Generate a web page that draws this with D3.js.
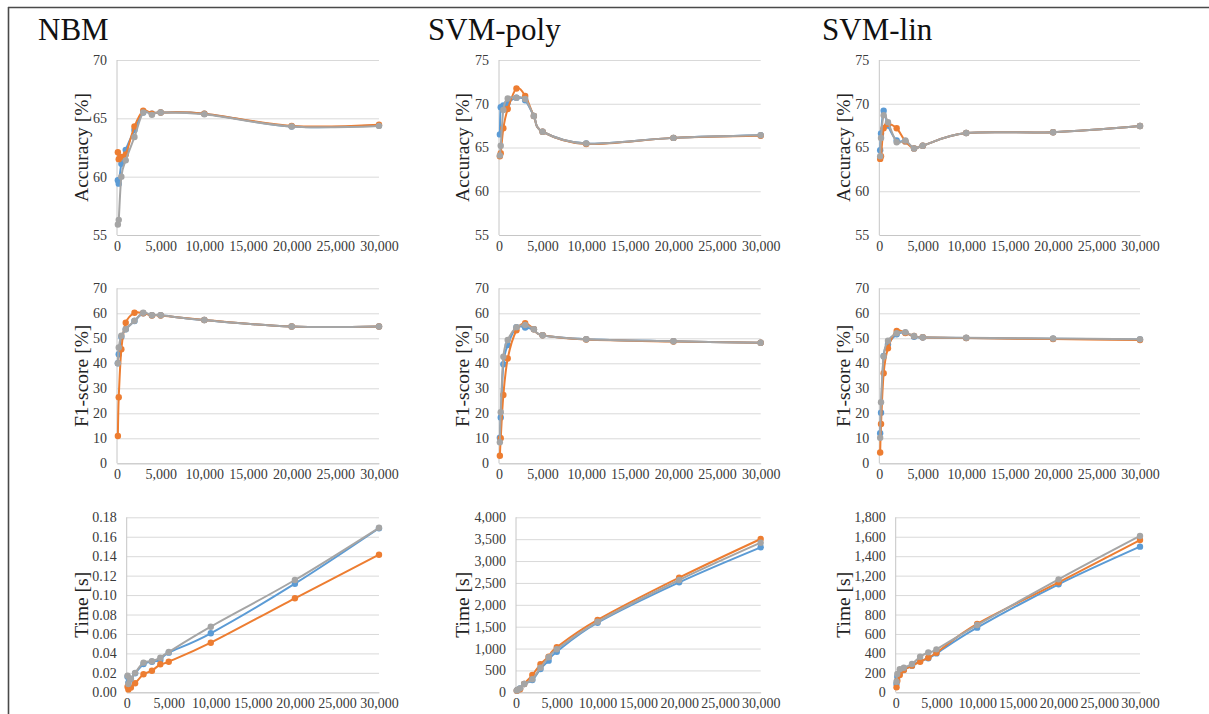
<!DOCTYPE html>
<html><head><meta charset="utf-8">
<script src="https://cdn.jsdelivr.net/npm/d3@7"></script>
<style>
body{margin:0;background:#fff;}
svg{display:block;}
text{font-family:"Liberation Serif","Times New Roman",serif;}
</style></head><body>
<svg id="chart" width="1209" height="714"></svg>
<script>
// ---------------- DATA ----------------
const xValues = [100, 200, 500, 1000, 2000, 3000, 4000, 5000, 10000, 20000, 30000];
const modelTitles = ["NBM", "SVM-poly", "SVM-lin"];
const metricLabels = ["Accuracy [%]", "F1-score [%]", "Time [s]"];
const xTicks = [0, 5000, 10000, 15000, 20000, 25000, 30000];

const nbmAccTicks = [55, 60, 65, 70];
const svmAccTicks = [55, 60, 65, 70, 75];
const f1Ticks = [0, 10, 20, 30, 40, 50, 60, 70];
const nbmTimeTicks = [0, 0.02, 0.04, 0.06, 0.08, 0.10, 0.12, 0.14, 0.16, 0.18];
const polyTimeTicks = [0, 500, 1000, 1500, 2000, 2500, 3000, 3500, 4000];
const linTimeTicks = [0, 200, 400, 600, 800, 1000, 1200, 1400, 1600, 1800];

// NBM accuracy
const nbmAccBlue   = [59.7, 59.4, 61.1, 62.3, 64.0, 65.5, 65.4, 65.5, 65.4, 64.3, 64.4];
const nbmAccOrange = [62.1, 61.5, 61.7, 61.9, 64.3, 65.65, 65.4, 65.5, 65.4, 64.35, 64.45];
const nbmAccGray   = [55.9, 56.3, 60.0, 61.4, 63.4, 65.5, 65.3, 65.5, 65.35, 64.3, 64.35];
// SVM-poly accuracy
const polyAccBlue   = [66.5, 69.6, 69.8, 70.1, 70.7, 70.4, 68.6, 66.8, 65.45, 66.1, 66.4];
const polyAccOrange = [64.0, 64.35, 67.2, 69.4, 71.75, 70.9, 68.6, 66.8, 65.4, 66.1, 66.35];
const polyAccGray   = [64.1, 65.2, 69.3, 70.6, 70.7, 70.55, 68.6, 66.8, 65.45, 66.1, 66.4];
// SVM-lin accuracy
const linAccBlue   = [64.7, 66.6, 69.2, 67.5, 65.8, 65.7, 64.9, 65.2, 66.65, 66.75, 67.45];
const linAccOrange = [63.7, 64.0, 67.2, 67.7, 67.2, 65.7, 64.9, 65.2, 66.65, 66.75, 67.45];
const linAccGray   = [64.0, 66.1, 68.7, 67.9, 65.6, 65.8, 64.9, 65.2, 66.65, 66.75, 67.45];
// NBM F1
const nbmF1Blue   = [40.0, 43.6, 50.6, 53.6, 56.9, 60.0, 59.2, 59.2, 57.3, 54.7, 54.7];
const nbmF1Orange = [10.9, 26.4, 45.6, 56.2, 60.2, 60.0, 59.1, 59.1, 57.3, 54.7, 54.7];
const nbmF1Gray   = [40.0, 46.3, 51.0, 53.6, 57.0, 60.2, 59.2, 59.2, 57.3, 54.7, 54.7];
// SVM-poly F1
const polyF1Blue   = [10.2, 18.3, 39.6, 47.3, 54.4, 54.3, 53.6, 51.2, 49.6, 48.8, 48.2];
const polyF1Orange = [3.0, 10.0, 27.3, 41.9, 53.2, 56.0, 53.6, 51.2, 49.5, 48.7, 48.2];
const polyF1Gray   = [8.4, 20.4, 42.6, 49.3, 54.4, 55.3, 53.6, 51.2, 49.6, 48.8, 48.2];
// SVM-lin F1
const linF1Blue   = [12.0, 20.2, 42.9, 47.6, 51.6, 52.2, 50.6, 50.3, 50.1, 49.8, 49.5];
const linF1Orange = [4.3, 15.7, 36.0, 46.0, 52.9, 52.1, 50.9, 50.4, 50.1, 49.7, 49.3];
const linF1Gray   = [10.2, 24.4, 42.7, 49.0, 52.0, 52.4, 50.9, 50.4, 50.2, 49.9, 49.6];
// NBM time
const nbmTimeBlue   = [0.016, 0.010, 0.0137, 0.0195, 0.029, 0.0315, 0.0332, 0.0408, 0.0607, 0.1117, 0.1687];
const nbmTimeOrange = [0.0058, 0.003, 0.005, 0.0093, 0.0185, 0.0222, 0.0288, 0.0315, 0.051, 0.0967, 0.1415];
const nbmTimeGray   = [0.017, 0.0085, 0.014, 0.020, 0.0305, 0.032, 0.0356, 0.0415, 0.0675, 0.1155, 0.1692];
// SVM-poly time
const polyTimeBlue   = [40, 55, 90, 190, 281, 533, 723, 928, 1591, 2514, 3314];
const polyTimeOrange = [37, 50, 69, 190, 395, 640, 814, 1029, 1653, 2620, 3504];
const polyTimeGray   = [40, 60, 90, 190, 297, 563, 800, 983, 1612, 2567, 3420];
// SVM-lin time
const linTimeBlue   = [85, 161, 202, 232, 274, 322, 350, 400, 665, 1111, 1498];
const linTimeOrange = [51, 120, 178, 229, 274, 315, 356, 407, 703, 1131, 1566];
const linTimeGray   = [109, 188, 237, 253, 291, 366, 411, 442, 692, 1162, 1608];

const seriesColors = ["#5b9bd5", "#ed7d31", "#a5a5a5"];

// ---------------- LAYOUT ----------------
const svg = d3.select("#chart");
const font = '"Liberation Serif","Times New Roman",serif';

const colRight = [379, 760.7, 1140];
const colLeftTop = [117, 499, 879.3];
const colLeftTime = [126.7, 516, 895.7];
const rowTop = [60, 288.3, 517.3];
const rowBottom = [235, 463.3, 692.3];
const yLabelX = [81, 462.5, 843];
const titleX = [38, 428, 822];

const panels = [
  {r:0,c:0, ticks:nbmAccTicks, fmt:d3.format("d"), s:[nbmAccBlue, nbmAccOrange, nbmAccGray]},
  {r:0,c:1, ticks:svmAccTicks, fmt:d3.format("d"), s:[polyAccBlue, polyAccOrange, polyAccGray]},
  {r:0,c:2, ticks:svmAccTicks, fmt:d3.format("d"), s:[linAccBlue, linAccOrange, linAccGray]},
  {r:1,c:0, ticks:f1Ticks, fmt:d3.format("d"), s:[nbmF1Blue, nbmF1Orange, nbmF1Gray]},
  {r:1,c:1, ticks:f1Ticks, fmt:d3.format("d"), s:[polyF1Blue, polyF1Orange, polyF1Gray]},
  {r:1,c:2, ticks:f1Ticks, fmt:d3.format("d"), s:[linF1Blue, linF1Orange, linF1Gray]},
  {r:2,c:0, ticks:nbmTimeTicks, fmt:d3.format(".2f"), s:[nbmTimeBlue, nbmTimeOrange, nbmTimeGray]},
  {r:2,c:1, ticks:polyTimeTicks, fmt:d3.format(","), s:[polyTimeBlue, polyTimeOrange, polyTimeGray]},
  {r:2,c:2, ticks:linTimeTicks, fmt:d3.format(","), s:[linTimeBlue, linTimeOrange, linTimeGray]}
];

// frame
svg.append("line").attr("x1", 8).attr("x2", 1209).attr("y1", 7.5).attr("y2", 7.5)
  .attr("stroke", "#4a4a4a").attr("stroke-width", 1.6);
svg.append("line").attr("x1", 8.5).attr("x2", 8.5).attr("y1", 7).attr("y2", 714)
  .attr("stroke", "#4a4a4a").attr("stroke-width", 1.6);

// titles
modelTitles.forEach((t, i) => {
  svg.append("text").attr("x", titleX[i]).attr("y", 40)
    .attr("font-size", 31).attr("fill", "#111").text(t);
});

panels.forEach(p => {
  const left = p.r === 2 ? colLeftTime[p.c] : colLeftTop[p.c];
  const right = colRight[p.c];
  const top = rowTop[p.r], bottom = rowBottom[p.r];
  const x = d3.scaleLinear().domain([0, 30000]).range([left, right]);
  const y = d3.scaleLinear().domain([p.ticks[0], p.ticks[p.ticks.length - 1]]).range([bottom, top]);
  const g = svg.append("g");

  // gridlines + y labels
  const ya = g.append("g").attr("transform", `translate(${left},0)`)
    .call(d3.axisLeft(y).tickValues(p.ticks).tickFormat(p.fmt)
      .tickSizeInner(-(right - left)).tickSizeOuter(0).tickPadding(10));
  ya.select(".domain").remove();
  ya.selectAll(".tick line").attr("stroke", "#d9d9d9").attr("stroke-width", 1);
  ya.selectAll(".tick text").attr("font-family", font).attr("font-size", 14).attr("fill", "#3a3a3a");

  // x axis
  const xa = g.append("g").attr("transform", `translate(0,${bottom})`)
    .call(d3.axisBottom(x).tickValues(xTicks).tickFormat(d3.format(","))
      .tickSize(0).tickPadding(6));
  xa.select(".domain").attr("stroke", "#c6c6c6").attr("stroke-width", 1);
  xa.selectAll(".tick text").attr("font-family", font).attr("font-size", 14).attr("fill", "#3a3a3a");

  // left axis line
  g.append("line").attr("x1", left).attr("x2", left).attr("y1", top).attr("y2", bottom)
    .attr("stroke", "#c6c6c6").attr("stroke-width", 1);

  // y label
  g.append("text")
    .attr("transform", `translate(${yLabelX[p.c]},${(top + bottom) / 2}) rotate(-90)`)
    .attr("text-anchor", "middle").attr("dominant-baseline", "central")
    .attr("font-size", 19.5).attr("fill", "#222").text(metricLabels[p.r]);

  const line = d3.line().x((d, i) => x(xValues[i])).y(d => y(d))
    .curve(d3.curveCardinal.tension(0));

  p.s.forEach((vals, si) => {
    g.append("path").datum(vals).attr("d", line).attr("fill", "none")
      .attr("stroke", seriesColors[si]).attr("stroke-width", 2)
      .attr("stroke-linejoin", "round");
    g.selectAll(null).data(vals).enter().append("circle")
      .attr("cx", (d, i) => x(xValues[i])).attr("cy", d => y(d)).attr("r", 3.2)
      .attr("fill", seriesColors[si]);
  });
});
</script>
</body></html>
